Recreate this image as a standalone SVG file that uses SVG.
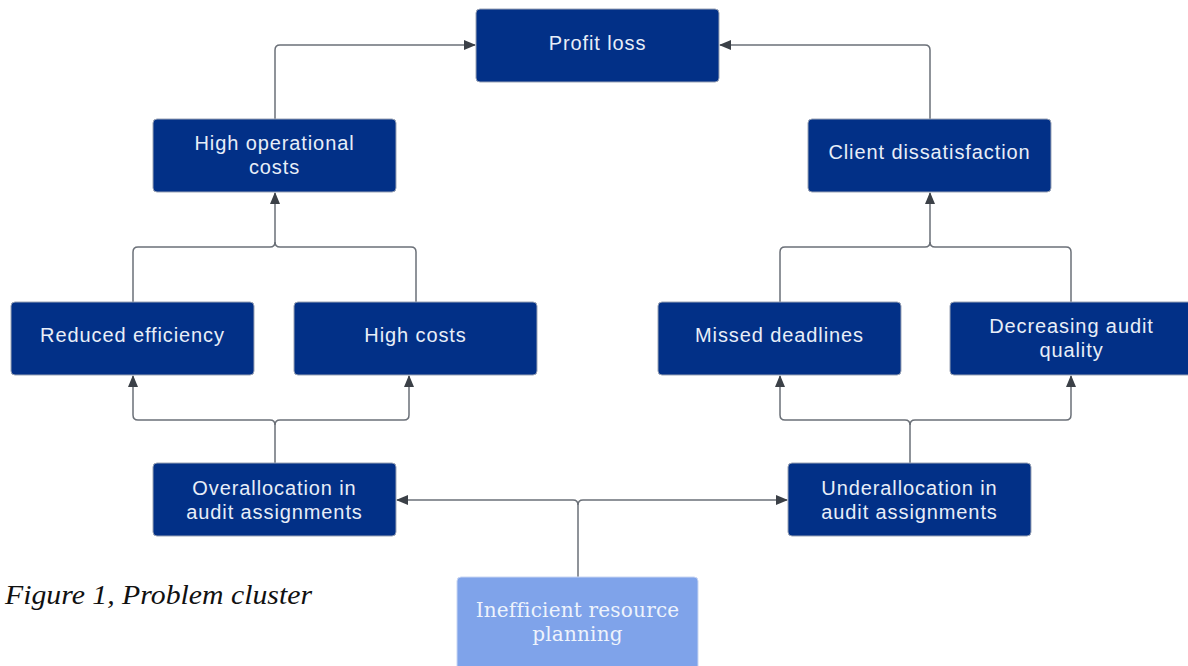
<svg xmlns="http://www.w3.org/2000/svg" width="1188" height="666" viewBox="0 0 1188 666">
<style>
.box{fill:#023087;stroke:#9aa3b5;stroke-width:1}
.t{font-family:"Liberation Sans",Arial,sans-serif;font-size:20px;fill:#e8eef8;text-anchor:middle;letter-spacing:0.9px}
.root{fill:#7fa3ea;stroke:#c9d6f2;stroke-width:1}
.rt{font-family:"DejaVu Serif","Liberation Serif",serif;font-size:20px;fill:#eef3fc;text-anchor:middle;letter-spacing:0.2px}
.c{fill:none;stroke:#6b7078;stroke-width:1.5;stroke-linejoin:round}
.cap{font-family:"Liberation Serif",serif;font-style:italic;font-size:28px;fill:#111}
</style>
<defs>
<marker id="ah" viewBox="0 0 12 10" refX="11" refY="5" markerWidth="12" markerHeight="10" markerUnits="userSpaceOnUse" orient="auto">
<path d="M0,0 L12,5 L0,10 Z" fill="#3b4047"/>
</marker>
</defs>
<g id="connectors">
<path class="c" d="M275,119 V50 Q275,45 280,45 H475" marker-end="url(#ah)"/>
<path class="c" d="M930,119 V50 Q930,45 925,45 H720" marker-end="url(#ah)"/>
<path class="c" d="M133,302 V252 Q133,247 138,247 H270 Q275,247 275,242 V193" marker-end="url(#ah)"/>
<path class="c" d="M416,302 V252 Q416,247 411,247 H280 Q275,247 275,242"/>
<path class="c" d="M780,302 V252 Q780,247 785,247 H925 Q930,247 930,242 V193" marker-end="url(#ah)"/>
<path class="c" d="M1071,302 V252 Q1071,247 1066,247 H935 Q930,247 930,242"/>
<path class="c" d="M275,463 V425 Q275,420 270,420 H138 Q133,420 133,415 V376" marker-end="url(#ah)"/>
<path class="c" d="M275,425 Q275,420 280,420 H404 Q409,420 409,415 V376" marker-end="url(#ah)"/>
<path class="c" d="M910,463 V425 Q910,420 905,420 H785 Q780,420 780,415 V376" marker-end="url(#ah)"/>
<path class="c" d="M910,425 Q910,420 915,420 H1066 Q1071,420 1071,415 V376" marker-end="url(#ah)"/>
<path class="c" d="M578,577 V505 Q578,500 573,500 H397" marker-end="url(#ah)"/>
<path class="c" d="M578,505 Q578,500 583,500 H787" marker-end="url(#ah)"/>
</g>
<g id="profit-loss"><rect class="box" x="476" y="9" width="243" height="73" rx="4"/><text class="t" x="597.5" y="50">Profit loss</text></g>
<g id="high-operational-costs"><rect class="box" x="153" y="119" width="243" height="73" rx="4"/><text class="t" x="274.5" y="150">High operational</text><text class="t" x="274.5" y="174">costs</text></g>
<g id="client-dissatisfaction"><rect class="box" x="808" y="119" width="243" height="73" rx="4"/><text class="t" x="929.5" y="159">Client dissatisfaction</text></g>
<g id="reduced-efficiency"><rect class="box" x="11" y="302" width="243" height="73" rx="4"/><text class="t" x="132.5" y="342">Reduced efficiency</text></g>
<g id="high-costs"><rect class="box" x="294" y="302" width="243" height="73" rx="4"/><text class="t" x="415.5" y="342">High costs</text></g>
<g id="missed-deadlines"><rect class="box" x="658" y="302" width="243" height="73" rx="4"/><text class="t" x="779.5" y="342">Missed deadlines</text></g>
<g id="decreasing-audit-quality"><rect class="box" x="950" y="302" width="243" height="73" rx="4"/><text class="t" x="1071.5" y="333">Decreasing audit</text><text class="t" x="1071.5" y="357">quality</text></g>
<g id="overallocation"><rect class="box" x="153" y="463" width="243" height="73" rx="4"/><text class="t" x="274.5" y="495">Overallocation in</text><text class="t" x="274.5" y="519">audit assignments</text></g>
<g id="underallocation"><rect class="box" x="788" y="463" width="243" height="73" rx="4"/><text class="t" x="909.5" y="495">Underallocation in</text><text class="t" x="909.5" y="519">audit assignments</text></g>
<g id="inefficient-resource-planning"><rect class="root" x="457" y="577" width="241" height="100" rx="4"/><text class="rt" x="577.5" y="617">Inefficient resource</text><text class="rt" x="577.5" y="641">planning</text></g>
<text class="cap" x="5" y="604" textLength="307" lengthAdjust="spacingAndGlyphs">Figure 1, Problem cluster</text>
</svg>
